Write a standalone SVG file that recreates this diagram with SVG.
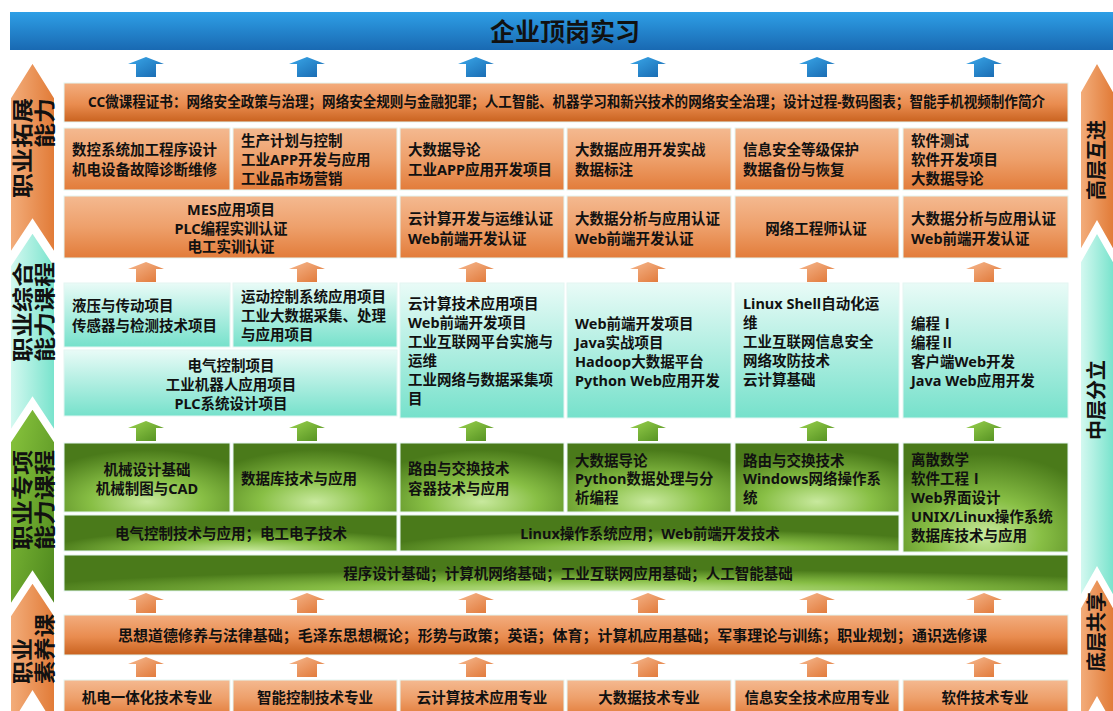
<svg xmlns="http://www.w3.org/2000/svg" width="1113" height="711" viewBox="0 0 1113 711">
<defs>
<linearGradient id="gBlue" x1="0" y1="0" x2="0" y2="1"><stop offset="0" stop-color="#2e9fe6"/><stop offset="1" stop-color="#1969b2"/></linearGradient>
<linearGradient id="gBlueA" x1="0" y1="0" x2="1" y2="1"><stop offset="0" stop-color="#3aa8ea"/><stop offset="1" stop-color="#1766ad"/></linearGradient>
<linearGradient id="gOr" x1="0" y1="0" x2="0" y2="1"><stop offset="0" stop-color="#f4b990"/><stop offset="0.5" stop-color="#eea06b"/><stop offset="1" stop-color="#e27c3a"/></linearGradient>
<linearGradient id="gOrD" x1="0" y1="0" x2="0" y2="1"><stop offset="0" stop-color="#f3ad7e"/><stop offset="0.55" stop-color="#e98c4f"/><stop offset="1" stop-color="#c9621f"/></linearGradient>
<linearGradient id="gOrA" x1="0" y1="0" x2="1" y2="1"><stop offset="0" stop-color="#f6b88e"/><stop offset="1" stop-color="#df7433"/></linearGradient>
<linearGradient id="gOrS" x1="0" y1="0" x2="1" y2="0"><stop offset="0" stop-color="#f3ae7c"/><stop offset="1" stop-color="#e17a36"/></linearGradient>
<linearGradient id="gTeal" x1="0" y1="0" x2="0" y2="1"><stop offset="0" stop-color="#e9fbf7"/><stop offset="1" stop-color="#76e1cb"/></linearGradient>
<linearGradient id="gTealS" x1="0" y1="0" x2="1" y2="0"><stop offset="0" stop-color="#d6f9f1"/><stop offset="1" stop-color="#77e3cc"/></linearGradient>
<linearGradient id="gGreenS" x1="0" y1="0" x2="1" y2="1"><stop offset="0" stop-color="#8ac63e"/><stop offset="1" stop-color="#4c861c"/></linearGradient>
<linearGradient id="gGreenA" x1="0" y1="0" x2="1" y2="1"><stop offset="0" stop-color="#9ad24e"/><stop offset="1" stop-color="#4f8c1e"/></linearGradient>
<radialGradient id="gGreen" cx="0.5" cy="0.85" r="0.75"><stop offset="0" stop-color="#c8e99e"/><stop offset="0.45" stop-color="#88bf45"/><stop offset="1" stop-color="#4a7a1a"/></radialGradient>
<radialGradient id="gGreenW" cx="0.55" cy="1" r="0.6"><stop offset="0" stop-color="#c8e99e"/><stop offset="0.5" stop-color="#86bd44"/><stop offset="1" stop-color="#4a7a1a"/></radialGradient>
<path id="sa" d="M0,0 L18,7 L10,7 L10,20 L-10,20 L-10,7 L-18,7 Z"/>
</defs>
<style>
.t{font-family:'Noto Sans','Noto Sans CJK SC',sans-serif;font-size:14.5px;font-weight:700;fill:#111}
.c{text-anchor:middle}
.side{font-size:20px}
.sl{font-size:21px}
.title{font-size:25px}
.bx{stroke:#e3f6f2;stroke-width:1}
.or{fill:url(#gOr)}
.ord{fill:url(#gOrD)}
.te{fill:url(#gTeal)}
.gr{fill:url(#gGreen)}
.grw{fill:url(#gGreenW)}
.sarrow{stroke:#ffffff;stroke-width:2}
</style>
<rect width="1113" height="711" fill="#ffffff"/>

<g id="banner">
<rect x="10" y="12" width="1103" height="38" fill="url(#gBlue)"/>
<text class="t c title" x="565" y="41">企业顶岗实习</text>
</g>

<g id="side-left">
<path class="sarrow" d="M32.5,62 L55,98 L55,254 L32.5,220 L10,254 L10,98 Z" fill="url(#gOrS)"/>
<path class="sarrow" d="M32.5,232 L55,266 L55,432 L32.5,398 L10,432 L10,266 Z" fill="url(#gTealS)"/>
<path class="sarrow" d="M32.5,408 L55,442 L55,606 L32.5,572 L10,606 L10,442 Z" fill="url(#gGreenS)"/>
<path class="sarrow" d="M32.5,582 L55,616 L55,728 L32.5,692 L10,728 L10,616 Z" fill="url(#gOrS)"/>
<text class="t sl" text-anchor="end" textLength="100" lengthAdjust="spacingAndGlyphs" transform="translate(30,98) rotate(-90)">职业拓展</text>
<text class="t sl" text-anchor="end" textLength="50" lengthAdjust="spacingAndGlyphs" transform="translate(52,98) rotate(-90)">能力</text>
<text class="t sl c" textLength="100" lengthAdjust="spacingAndGlyphs" transform="translate(30,312) rotate(-90)">职业综合</text>
<text class="t sl c" textLength="100" lengthAdjust="spacingAndGlyphs" transform="translate(52,312) rotate(-90)">能力课程</text>
<text class="t sl c" textLength="100" lengthAdjust="spacingAndGlyphs" transform="translate(30,500) rotate(-90)">职业专项</text>
<text class="t sl c" textLength="100" lengthAdjust="spacingAndGlyphs" transform="translate(52,500) rotate(-90)">能力课程</text>
<text class="t sl" textLength="46" lengthAdjust="spacingAndGlyphs" transform="translate(30,684) rotate(-90)">职业</text>
<text class="t sl" textLength="70" lengthAdjust="spacingAndGlyphs" transform="translate(52,684) rotate(-90)">素养课</text>
</g>

<g id="side-right">
<path class="sarrow" d="M1097,62 L1114,92 L1114,252 L1097,222 L1080,252 L1080,92 Z" fill="url(#gOrS)"/>
<path class="sarrow" d="M1097,232 L1114,262 L1114,598 L1097,568 L1080,598 L1080,262 Z" fill="url(#gTealS)"/>
<path class="sarrow" d="M1097,578 L1114,608 L1114,728 L1097,698 L1080,728 L1080,608 Z" fill="url(#gOrS)"/>
<text class="t side c" transform="translate(1104,160) rotate(-90)">高层互进</text>
<text class="t side c" transform="translate(1104,400) rotate(-90)">中层分立</text>
<text class="t side c" transform="translate(1104,632) rotate(-90)">底层共享</text>
</g>

<g id="connectors">
<g fill="url(#gBlueA)">
<use href="#sa" x="146" y="57"/><use href="#sa" x="307" y="57"/><use href="#sa" x="476" y="57"/><use href="#sa" x="648" y="57"/><use href="#sa" x="817" y="57"/><use href="#sa" x="984" y="57"/>
</g>
<g fill="url(#gOrA)">
<use href="#sa" x="146" y="262"/><use href="#sa" x="307" y="262"/><use href="#sa" x="476" y="262"/><use href="#sa" x="648" y="262"/><use href="#sa" x="817" y="262"/><use href="#sa" x="984" y="262"/>
</g>
<g fill="url(#gGreenA)">
<use href="#sa" x="146" y="421"/><use href="#sa" x="307" y="421"/><use href="#sa" x="476" y="421"/><use href="#sa" x="648" y="421"/><use href="#sa" x="817" y="421"/><use href="#sa" x="984" y="421"/>
</g>
<g fill="url(#gOrA)">
<use href="#sa" x="146" y="593"/><use href="#sa" x="307" y="593"/><use href="#sa" x="476" y="593"/><use href="#sa" x="648" y="593"/><use href="#sa" x="817" y="593"/><use href="#sa" x="984" y="593"/>
<use href="#sa" x="146" y="657"/><use href="#sa" x="307" y="657"/><use href="#sa" x="476" y="657"/><use href="#sa" x="648" y="657"/><use href="#sa" x="817" y="657"/><use href="#sa" x="984" y="657"/>
</g>
</g>

<g id="cc-row">
<rect class="bx ord" x="64" y="83" width="1004" height="39"/>
<text class="t" x="88" y="107" font-size="13.5" textLength="957" lengthAdjust="spacingAndGlyphs">CC微课程证书：网络安全政策与治理；网络安全规则与金融犯罪；人工智能、机器学习和新兴技术的网络安全治理；设计过程-数码图表；智能手机视频制作简介</text>
</g>

<g id="ext-row1">
<g id="e1"><rect class="bx or" x="64" y="128" width="166" height="62"/><text class="t" x="72"><tspan x="72" y="154.5">数控系统加工程序设计</tspan><tspan x="72" y="174.5">机电设备故障诊断维修</tspan></text></g>
<g id="e2"><rect class="bx or" x="233" y="128" width="164" height="62"/><text class="t"><tspan x="241" y="145.5">生产计划与控制</tspan><tspan x="241" y="164.5">工业APP开发与应用</tspan><tspan x="241" y="183.5">工业品市场营销</tspan></text></g>
<g id="e3"><rect class="bx or" x="400" y="128" width="164" height="62"/><text class="t"><tspan x="408" y="155">大数据导论</tspan><tspan x="408" y="175">工业APP应用开发项目</tspan></text></g>
<g id="e4"><rect class="bx or" x="567" y="128" width="164" height="62"/><text class="t"><tspan x="575" y="155">大数据应用开发实战</tspan><tspan x="575" y="175">数据标注</tspan></text></g>
<g id="e5"><rect class="bx or" x="735" y="128" width="164" height="62"/><text class="t"><tspan x="743" y="155">信息安全等级保护</tspan><tspan x="743" y="175">数据备份与恢复</tspan></text></g>
<g id="e6"><rect class="bx or" x="903" y="128" width="165" height="62"/><text class="t"><tspan x="911" y="146">软件测试</tspan><tspan x="911" y="165">软件开发项目</tspan><tspan x="911" y="184">大数据导论</tspan></text></g>
</g>

<g id="ext-row2">
<g id="f1"><rect class="bx or" x="64" y="196" width="333" height="62"/><text class="t c"><tspan x="231" y="214.5">MES应用项目</tspan><tspan x="231" y="233.5">PLC编程实训认证</tspan><tspan x="231" y="252">电工实训认证</tspan></text></g>
<g id="f3"><rect class="bx or" x="400" y="196" width="164" height="62"/><text class="t"><tspan x="408" y="223.5">云计算开发与运维认证</tspan><tspan x="408" y="243.5">Web前端开发认证</tspan></text></g>
<g id="f4"><rect class="bx or" x="567" y="196" width="164" height="62"/><text class="t"><tspan x="575" y="223.5">大数据分析与应用认证</tspan><tspan x="575" y="243.5">Web前端开发认证</tspan></text></g>
<g id="f5"><rect class="bx or" x="735" y="196" width="164" height="62"/><text class="t c" x="816" y="233.5">网络工程师认证</text></g>
<g id="f6"><rect class="bx or" x="903" y="196" width="165" height="62"/><text class="t"><tspan x="911" y="223.5">大数据分析与应用认证</tspan><tspan x="911" y="243.5">Web前端开发认证</tspan></text></g>
</g>

<g id="comp">
<g id="c1"><rect class="bx te" x="64" y="283" width="166" height="64"/><text class="t"><tspan x="72" y="310.5">液压与传动项目</tspan><tspan x="72" y="330.5">传感器与检测技术项目</tspan></text></g>
<g id="c2"><rect class="bx te" x="233" y="283" width="164" height="64"/><text class="t"><tspan x="241" y="301.5">运动控制系统应用项目</tspan><tspan x="241" y="320.5">工业大数据采集、处理</tspan><tspan x="241" y="339.5">与应用项目</tspan></text></g>
<g id="c12"><rect class="bx te" x="64" y="350" width="333" height="66"/><text class="t c"><tspan x="231" y="370.5">电气控制项目</tspan><tspan x="231" y="389.5">工业机器人应用项目</tspan><tspan x="231" y="408.5">PLC系统设计项目</tspan></text></g>
<g id="c3"><rect class="bx te" x="400" y="283" width="164" height="135"/><text class="t"><tspan x="408" y="308.5">云计算技术应用项目</tspan><tspan x="408" y="327.5">Web前端开发项目</tspan><tspan x="408" y="346.5">工业互联网平台实施与</tspan><tspan x="408" y="365.5">运维</tspan><tspan x="408" y="384.5">工业网络与数据采集项</tspan><tspan x="408" y="403.5">目</tspan></text></g>
<g id="c4"><rect class="bx te" x="567" y="283" width="164" height="135"/><text class="t"><tspan x="575" y="328.5">Web前端开发项目</tspan><tspan x="575" y="347.5">Java实战项目</tspan><tspan x="575" y="366.5">Hadoop大数据平台</tspan><tspan x="575" y="385.5">Python Web应用开发</tspan></text></g>
<g id="c5"><rect class="bx te" x="735" y="283" width="164" height="135"/><text class="t"><tspan x="743" y="308.5">Linux Shell自动化运</tspan><tspan x="743" y="327.5">维</tspan><tspan x="743" y="346.5">工业互联网信息安全</tspan><tspan x="743" y="365.5">网络攻防技术</tspan><tspan x="743" y="384.5">云计算基础</tspan></text></g>
<g id="c6"><rect class="bx te" x="903" y="283" width="165" height="135"/><text class="t"><tspan x="911" y="328.5">编程Ⅰ</tspan><tspan x="911" y="347.5">编程Ⅱ</tspan><tspan x="911" y="366.5">客户端Web开发</tspan><tspan x="911" y="385.5">Java Web应用开发</tspan></text></g>
</g>

<g id="spec">
<g id="s1"><rect class="bx gr" x="64" y="443" width="166" height="69"/><text class="t c"><tspan x="147" y="474.5">机械设计基础</tspan><tspan x="147" y="493.5">机械制图与CAD</tspan></text></g>
<g id="s2"><rect class="bx gr" x="233" y="443" width="164" height="69"/><text class="t" x="241" y="483.5">数据库技术与应用</text></g>
<g id="s3"><rect class="bx gr" x="400" y="443" width="164" height="69"/><text class="t"><tspan x="408" y="473.5">路由与交换技术</tspan><tspan x="408" y="493.5">容器技术与应用</tspan></text></g>
<g id="s4"><rect class="bx gr" x="567" y="443" width="164" height="69"/><text class="t"><tspan x="575" y="465.5">大数据导论</tspan><tspan x="575" y="484">Python数据处理与分</tspan><tspan x="575" y="502.5">析编程</tspan></text></g>
<g id="s5"><rect class="bx gr" x="735" y="443" width="164" height="69"/><text class="t"><tspan x="743" y="465.5">路由与交换技术</tspan><tspan x="743" y="484">Windows网络操作系</tspan><tspan x="743" y="502.5">统</tspan></text></g>
<g id="s6"><rect class="bx gr" x="903" y="443" width="165" height="109"/><text class="t"><tspan x="911" y="464.5">离散数学</tspan><tspan x="911" y="483.5">软件工程Ⅰ</tspan><tspan x="911" y="502.5">Web界面设计</tspan><tspan x="911" y="521.5">UNIX/Linux操作系统</tspan><tspan x="911" y="540.5">数据库技术与应用</tspan></text></g>
<g id="s7"><rect class="bx grw" x="64" y="515" width="333" height="36"/><text class="t c" x="231" y="538.5">电气控制技术与应用；电工电子技术</text></g>
<g id="s8"><rect class="bx grw" x="400" y="515" width="499" height="36"/><text class="t c" x="650" y="538.5">Linux操作系统应用；Web前端开发技术</text></g>
<g id="s9"><rect class="bx grw" x="64" y="555" width="1004" height="36"/><text class="t c" x="568" y="578.5">程序设计基础；计算机网络基础；工业互联网应用基础；人工智能基础</text></g>
</g>

<g id="basic">
<rect class="bx ord" x="64" y="615" width="1004" height="40"/>
<text class="t" x="118" y="641" textLength="869" lengthAdjust="spacingAndGlyphs">思想道德修养与法律基础；毛泽东思想概论；形势与政策；英语；体育；计算机应用基础；军事理论与训练；职业规划；通识选修课</text>
</g>

<g id="majors">
<g id="m1"><rect class="bx or" x="64" y="680" width="166" height="36"/><text class="t c" x="147" y="702.5">机电一体化技术专业</text></g>
<g id="m2"><rect class="bx or" x="233" y="680" width="164" height="36"/><text class="t c" x="315" y="702.5">智能控制技术专业</text></g>
<g id="m3"><rect class="bx or" x="400" y="680" width="164" height="36"/><text class="t c" x="482" y="702.5">云计算技术应用专业</text></g>
<g id="m4"><rect class="bx or" x="567" y="680" width="164" height="36"/><text class="t c" x="649" y="702.5">大数据技术专业</text></g>
<g id="m5"><rect class="bx or" x="735" y="680" width="164" height="36"/><text class="t c" x="817" y="702.5">信息安全技术应用专业</text></g>
<g id="m6"><rect class="bx or" x="903" y="680" width="165" height="36"/><text class="t c" x="985" y="702.5">软件技术专业</text></g>
</g>
</svg>
